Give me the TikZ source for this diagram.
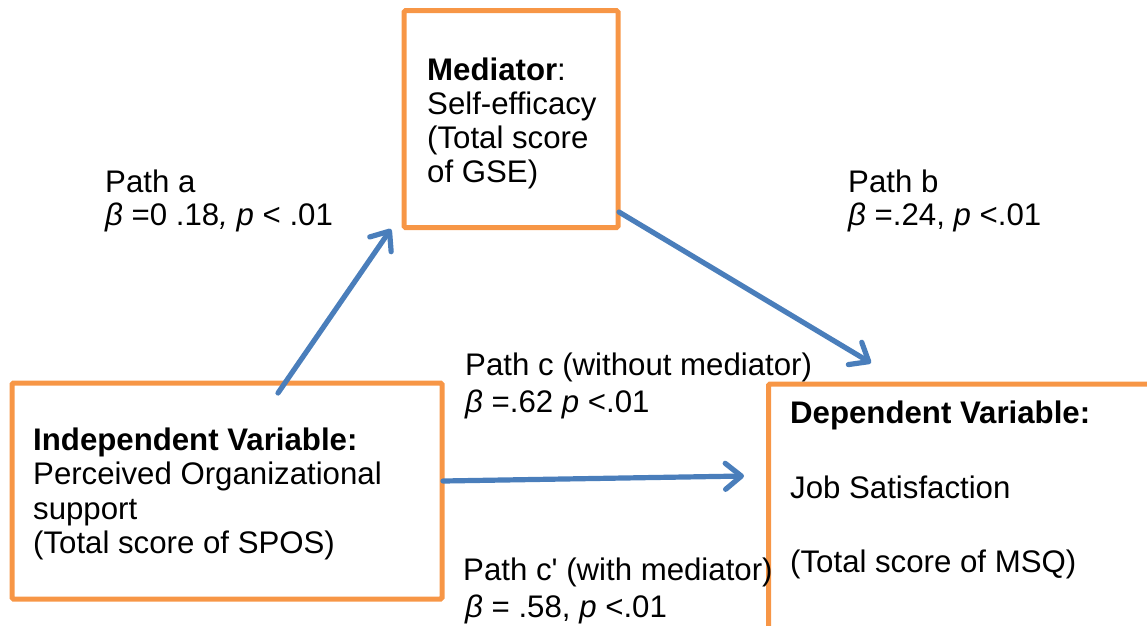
\documentclass[tikz,border=0pt]{standalone}
\usepackage{fontspec}
\setmainfont{Liberation Sans}
\usetikzlibrary{arrows.meta}
\definecolor{boxorange}{HTML}{F79646}
\definecolor{arrowblue}{HTML}{4A7EBB}
\tikzset{
  box/.style={draw=boxorange, line width=5pt, rounded corners=1.5pt},
  txt/.style={anchor=base west, inner sep=0pt, font=\fontsize{31.2}{34}\selectfont},
  link/.style={draw=arrowblue, line width=5.2pt, line cap=round,
    -{Straight Barb[length=16pt, width=26pt, line cap=round, line join=round]}},
}
\begin{document}
\begin{tikzpicture}[x=1pt, y=-1pt]
\useasboundingbox (0,0) rectangle (1147,625);
\clip (0,0) rectangle (1147,625);
% boxes
\draw[box] (404,10.7) rectangle (618,227.5);
\coordinate (med) at (511,119);
\draw[box] (12,383) rectangle (442,599);
\coordinate (iv) at (227,491);
\draw[box] (768.5,384) rectangle (1170,650);
\coordinate (dv) at (960,520);
% mediator text
\node[txt] (m1) at (427,80) {\textbf{Mediator}:};
\node[txt] (m2) at (427,114) {Self-efficacy};
\node[txt] (m3) at (427,148) {(Total score};
\node[txt] (m4) at (427,182) {of GSE)};
% independent variable text
\node[txt] (i1) at (33,450) {\textbf{Independent Variable:}};
\node[txt] (i2) at (33,484.5) {Perceived Organizational};
\node[txt] (i3) at (33,519) {support};
\node[txt] (i4) at (33,553) {(Total score of SPOS)};
% dependent variable text
\node[txt] (d1) at (790,423) {\textbf{Dependent Variable:}};
\node[txt] (d2) at (790,498) {Job Satisfaction};
\node[txt] (d3) at (790,572) {(Total score of MSQ)};
% path labels
\node[txt] (pa1) at (105,192) {Path a};
\node[txt] (pa2) at (105,225) {\textit{β} =0 .18\textit{,} \textit{p} < .01};
\node[txt] (pb1) at (848,192) {Path b};
\node[txt] (pb2) at (848,225) {\textit{β} =.24, \textit{p} <.01};
\node[txt] (pc1) at (465,375) {Path c (without mediator)};
\node[txt] (pc2) at (465,412) {\textit{β} =.62 \textit{p} <.01};
\node[txt] (pd1) at (463,580) {Path c\textquotesingle{} (with mediator)};
\node[txt] (pd2) at (465,617) {\textit{β} = .58, \textit{p} <.01};
% arrow end points
\coordinate (aS) at (278,393);
\coordinate (aE) at (391,229);
\coordinate (bS) at (619,212);
\coordinate (bE) at (871,363);
\coordinate (cS) at (443,481);
\coordinate (cE) at (744,476);
\draw[link] (aS) -- (aE);
\draw[link] (bS) -- (bE);
\draw[link] (cS) -- (cE);
\end{tikzpicture}
\end{document}
